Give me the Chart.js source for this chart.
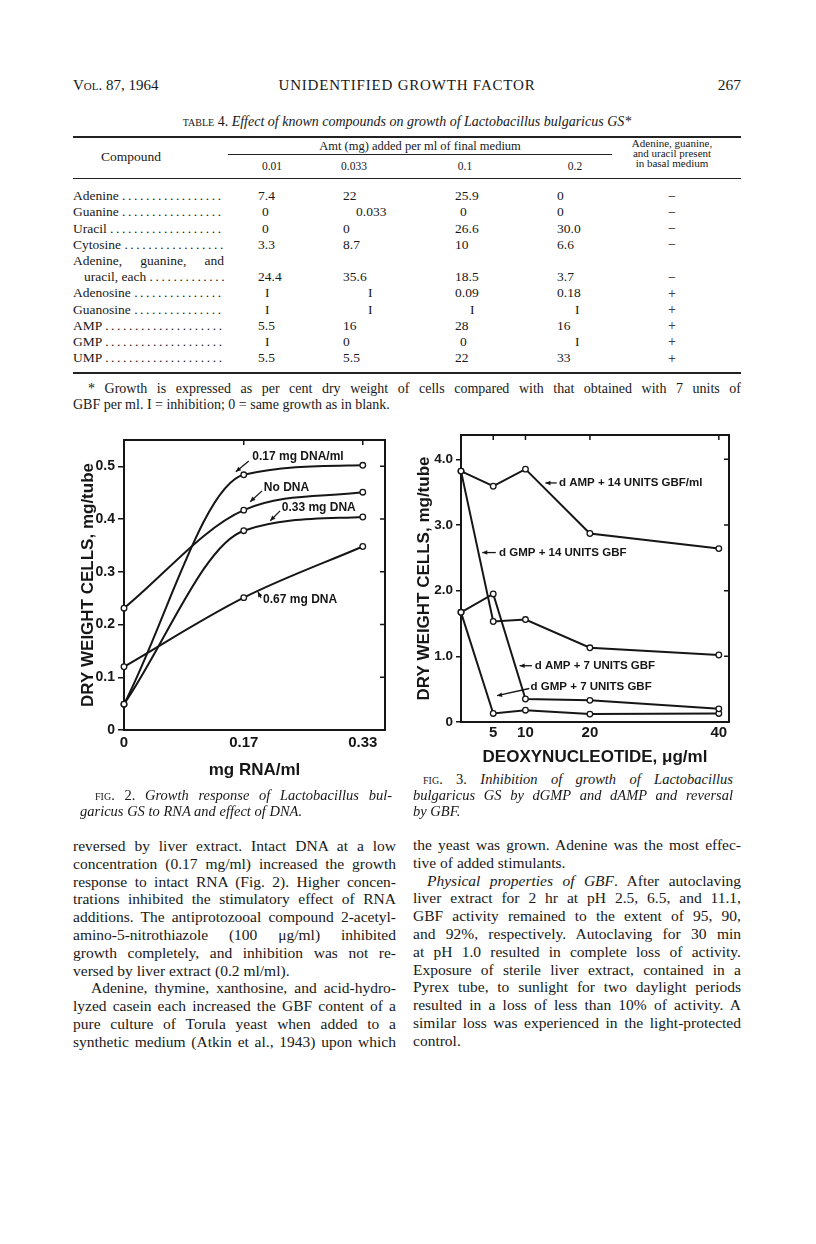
<!DOCTYPE html>
<html>
<head>
<meta charset="utf-8">
<title>Unidentified growth factor, p. 267</title>
<script src="https://cdn.jsdelivr.net/npm/chart.js"></script>
<style>
  html, body { margin: 0; padding: 0; background: #fff; }
  body { position: relative; width: 816px; height: 1244px; overflow: hidden;
         font-family: "Liberation Serif", "DejaVu Serif", serif; color: #181818; }
  .t { position: absolute; white-space: nowrap; }
  .jl { position: absolute; white-space: normal; text-align: justify; text-align-last: justify; }
  .rule { position: absolute; background: #222; }
  .sc { font-variant: small-caps; }
  .lead { overflow: hidden; }
  canvas { position: absolute; }
</style>
</head>
<body>
<canvas id="fig2" width="360" height="365" style="left:40px; top:425px;"></canvas>
<canvas id="fig3" width="335" height="350" style="left:405px; top:420px;"></canvas>

<script>
// ---- Fig. 2: growth vs RNA, with DNA added ----
const rnaDoses = [0, 0.167, 0.333];
const rnaTickLabels = ['0', '0.17', '0.33'];
const dna017 = [0.049, 0.484, 0.502];
const noDna = [0.231, 0.417, 0.451];
const dna033 = [0.049, 0.378, 0.404];
const dna067 = [0.120, 0.251, 0.348];
const weightTicks2 = [0, 0.1, 0.2, 0.3, 0.4, 0.5];

// ---- Fig. 3: inhibition by dGMP / dAMP ----
const deoxyDoses = [0, 5, 10, 20, 40];
const deoxyTicks = [5, 10, 20, 40];
const dAmp14 = [3.82, 3.59, 3.85, 2.87, 2.64];
const dGmp14 = [3.82, 1.53, 1.56, 1.13, 1.02];
const dAmp7 = [1.67, 1.95, 0.35, 0.33, 0.20];
const dGmp7 = [1.67, 0.13, 0.18, 0.12, 0.13];
const weightTicks3 = [0, 1, 2, 3, 4];

// ---- Table 4 ----
const compounds = ['Adenine', 'Guanine', 'Uracil', 'Cytosine', 'Adenine, guanine, and|uracil, each',
  'Adenosine', 'Guanosine', 'AMP', 'GMP', 'UMP'];
const amountLabels = ['0.01', '0.033', '0.1', '0.2'];
const amt001 = ['7.4', '0', '0', '3.3', '24.4', 'I', 'I', '5.5', 'I', '5.5'];
const amt0033 = ['22', '0.033', '0', '8.7', '35.6', 'I', 'I', '16', '0', '5.5'];
const amt01 = ['25.9', '0', '26.6', '10', '18.5', '0.09', 'I', '28', '0', '22'];
const amt02 = ['0', '0', '30.0', '6.6', '3.7', '0.18', 'I', '16', 'I', '33'];
const inBasal = ['\u2212', '\u2212', '\u2212', '\u2212', '\u2212', '+', '+', '+', '+', '+'];

const INK = '#161616';
const SANS = '"Liberation Sans", Arial, sans-serif';

// page text helper
function put(html, left, cy, size, opts = {}) {
  const d = document.createElement('div');
  d.className = opts.justify ? 'jl' : 't';
  const lh = Math.round(size * 1.2);
  d.style.left = left + 'px';
  d.style.top = (cy - lh * 0.58) + 'px';
  d.style.fontSize = size + 'px';
  d.style.lineHeight = lh + 'px';
  if (opts.width) d.style.width = opts.width + 'px';
  if (opts.align) d.style.textAlign = opts.align;
  if (opts.style) Object.assign(d.style, opts.style);
  d.innerHTML = html;
  document.body.appendChild(d);
  return d;
}
function rule(x1, x2, y, w) {
  const r = document.createElement('div');
  r.className = 'rule';
  r.style.left = x1 + 'px'; r.style.width = (x2 - x1) + 'px';
  r.style.top = (y - w / 2) + 'px'; r.style.height = w + 'px';
  document.body.appendChild(r);
}
function lines(list, left, width, firstY, step, size) {
  list.forEach((l, i) => {
    const ind = l.indent || 0;
    put(l.t, left + ind, firstY + i * step, size,
        { justify: !l.last, width: width - ind });
  });
}

// running head
put('V<span class="sc">ol</span>. 87, 1964', 73, 86, 15);
put('UNIDENTIFIED GROWTH FACTOR', 73, 86, 15, { width: 668, align: 'center', style: { letterSpacing: '0.8px' } });
put('267', 73, 86, 15.5, { width: 668, align: 'right' });

// table
put('<span class="sc">table</span> 4. <i>Effect of known compounds on growth of Lactobacillus bulgaricus GS*</i>',
    73, 123, 14, { width: 668, align: 'center' });
rule(73, 741, 137, 2);
put('Compound', 101, 158, 13.5);
put('Amt (mg) added per ml of final medium', 228, 148, 12.5, { width: 384, align: 'center' });
rule(228, 612, 154, 1);
const headX = [272, 354, 465, 575];
amountLabels.forEach((s, i) => put(s, headX[i] - 30, 167, 11.5, { width: 60, align: 'center' }));
['Adenine, guanine,', 'and uracil present', 'in basal medium'].forEach((s, i) =>
  put(s, 607, 145.5 + i * 10, 11, { width: 130, align: 'center', style: { lineHeight: '11px' } }));
rule(73, 741, 178, 1);

const colX = [258, 343, 455, 557];
const cols = [amt001, amt0033, amt01, amt02];
const shiftI = [7, 25, 15, 18];
const shiftZero = [4, 0, 5, 0];
const rowY = i => 197.5 + i * 16.2;
let r = 0;
compounds.forEach((name, k) => {
  const parts = name.split('|');
  if (parts.length > 1) {
    put(parts[0], 73, rowY(r), 13.5, { justify: true, width: 151 });
    r++;
  }
  const label = parts[parts.length - 1];
  const indent = parts.length > 1 ? 11 : 0;
  const lead = put(label + ' <span style="letter-spacing:2.6px">' + '.'.repeat(40) + '</span>',
                   73 + indent, rowY(r), 13.5);
  lead.classList.add('lead');
  lead.style.width = (151 - indent) + 'px';
  cols.forEach((c, j) => {
    const v = c[k];
    let dx = 0;
    if (v === 'I') dx = shiftI[j];
    if (v === '0') dx = shiftZero[j];
    if (v === '0.033') dx = 13;
    put(v, colX[j] + dx, rowY(r), 13.5);
  });
  put(inBasal[k], 657, rowY(r), 14, { width: 30, align: 'center' });
  r++;
});
rule(73, 741, 373, 1.5);
put('* Growth is expressed as per cent dry weight of cells compared with that obtained with 7 units of',
    88, 390, 14, { justify: true, width: 653 });
put('GBF per ml. I = inhibition; 0 = same growth as in blank.', 73, 406, 14);

// captions
put('<span class="sc">fig</span>. 2. <i>Growth response of Lactobacillus bul-</i>', 95, 797, 14.5, { justify: true, width: 297 });
put('<i>garicus GS to RNA and effect of DNA.</i>', 80, 813, 14.5);
put('<span class="sc">fig</span>. 3. <i>Inhibition of growth of Lactobacillus</i>', 423, 781, 14.5, { justify: true, width: 310 });
put('<i>bulgaricus GS by dGMP and dAMP and reversal</i>', 413, 797, 14.5, { justify: true, width: 320 });
put('<i>by GBF.</i>', 413, 813, 14.5);

// body text
const leftText = [
  { t: 'reversed by liver extract. Intact DNA at a low' },
  { t: 'concentration (0.17 mg/ml) increased the growth' },
  { t: 'response to intact RNA (Fig. 2). Higher concen-' },
  { t: 'trations inhibited the stimulatory effect of RNA' },
  { t: 'additions. The antiprotozooal compound 2-acetyl-' },
  { t: 'amino-5-nitrothiazole (100 \u03bcg/ml) inhibited' },
  { t: 'growth completely, and inhibition was not re-' },
  { t: 'versed by liver extract (0.2 ml/ml).', last: true },
  { t: 'Adenine, thymine, xanthosine, and acid-hydro-', indent: 18 },
  { t: 'lyzed casein each increased the GBF content of a' },
  { t: 'pure culture of Torula yeast when added to a' },
  { t: 'synthetic medium (Atkin et al., 1943) upon which' }
];
const rightText = [
  { t: 'the yeast was grown. Adenine was the most effec-' },
  { t: 'tive of added stimulants.', last: true },
  { t: '<i>Physical properties of GBF</i>. After autoclaving', indent: 14 },
  { t: 'liver extract for 2 hr at pH 2.5, 6.5, and 11.1,' },
  { t: 'GBF activity remained to the extent of 95, 90,' },
  { t: 'and 92%, respectively. Autoclaving for 30 min' },
  { t: 'at pH 1.0 resulted in complete loss of activity.' },
  { t: 'Exposure of sterile liver extract, contained in a' },
  { t: 'Pyrex tube, to sunlight for two daylight periods' },
  { t: 'resulted in a loss of less than 10% of activity. A' },
  { t: 'similar loss was experienced in the light-protected' },
  { t: 'control.', last: true }
];
lines(leftText, 73, 323, 847, 17.8, 15.5);
lines(rightText, 413, 328, 846, 17.8, 15.5);

// ---- chart helpers ----
const pairs = (xs, ys) => xs.map((x, i) => ({ x, y: ys[i] }));
function series(xs, ys, smooth) {
  return {
    data: pairs(xs, ys), borderColor: INK, borderWidth: 2, fill: false, clip: false,
    tension: 0, cubicInterpolationMode: smooth ? 'monotone' : 'default',
    pointRadius: 2.8, pointBackgroundColor: '#fff', pointBorderColor: INK, pointBorderWidth: 1.3
  };
}
const font = size => ({ family: SANS, size, weight: 'bold' });

const framePlugin = {
  id: 'frame',
  beforeDatasetsDraw(chart) {
    const { ctx, chartArea: a, scales: { x, y } } = chart;
    ctx.save();
    ctx.strokeStyle = INK;
    ctx.lineWidth = 2;
    ctx.strokeRect(a.left, a.top, a.right - a.left, a.bottom - a.top);
    ctx.lineWidth = 1.5;
    ctx.beginPath();
    y.ticks.forEach(t => {
      if (t.value === 0) return;
      const py = y.getPixelForValue(t.value);
      ctx.moveTo(a.right, py); ctx.lineTo(a.right - 5, py);
    });
    x.ticks.forEach(t => {
      const px = x.getPixelForValue(t.value);
      if (px < a.left + 2) return;
      ctx.moveTo(px, a.top); ctx.lineTo(px, a.top + 5);
    });
    ctx.stroke();
    ctx.restore();
  }
};

function notesPlugin(items, size) {
  return {
    id: 'notes',
    afterDatasetsDraw(chart) {
      const { ctx, scales: { x, y } } = chart;
      ctx.save();
      ctx.fillStyle = INK; ctx.strokeStyle = INK; ctx.lineWidth = 1.3;
      ctx.font = 'bold ' + size + 'px ' + SANS;
      ctx.textBaseline = 'middle'; ctx.textAlign = 'left';
      items.forEach(n => {
        ctx.fillText(n.text, x.getPixelForValue(n.at[0]), y.getPixelForValue(n.at[1]));
        const x1 = x.getPixelForValue(n.from[0]), y1 = y.getPixelForValue(n.from[1]);
        const x2 = x.getPixelForValue(n.to[0]), y2 = y.getPixelForValue(n.to[1]);
        ctx.beginPath(); ctx.moveTo(x1, y1); ctx.lineTo(x2, y2); ctx.stroke();
        const ang = Math.atan2(y2 - y1, x2 - x1);
        ctx.beginPath();
        ctx.moveTo(x2, y2);
        ctx.lineTo(x2 - 5 * Math.cos(ang) + 2.3 * Math.sin(ang), y2 - 5 * Math.sin(ang) - 2.3 * Math.cos(ang));
        ctx.lineTo(x2 - 5 * Math.cos(ang) - 2.3 * Math.sin(ang), y2 - 5 * Math.sin(ang) + 2.3 * Math.cos(ang));
        ctx.closePath(); ctx.fill();
      });
      ctx.restore();
    }
  };
}

function axes(o) {
  return {
    x: {
      type: 'linear', min: 0, max: o.xMax,
      afterBuildTicks: s => { s.ticks = o.xTicks.map(v => ({ value: v })); },
      afterFit: s => { s.height = o.xHeight; },
      grid: { display: false, drawTicks: false },
      border: { display: false },
      ticks: { callback: o.xLabel, font: font(15), color: INK, padding: o.xPad, maxRotation: 0, autoSkip: false },
      title: { display: true, text: o.xTitle, font: font(17), color: INK, padding: { top: 0, bottom: o.xTitlePad } }
    },
    y: {
      min: 0, max: o.yMax,
      afterBuildTicks: s => { s.ticks = o.yTicks.map(v => ({ value: v })); },
      afterFit: s => { s.width = o.yWidth; },
      grid: { drawOnChartArea: false, drawTicks: true, tickLength: o.yTickLen, color: INK, lineWidth: 1.5 },
      border: { display: false },
      ticks: { callback: v => (v === 0 ? '0' : v.toFixed(1)), font: font(o.yFont), color: INK, padding: 3 },
      title: { display: true, text: 'DRY WEIGHT CELLS, mg/tube', font: font(17), color: INK,
               padding: { top: o.yTitlePad, bottom: 0 } }
    }
  };
}

const common = {
  responsive: false, animation: false, devicePixelRatio: 1,
  plugins: { legend: { display: false }, tooltip: { enabled: false } }
};

new Chart(document.getElementById('fig2'), {
  type: 'line',
  data: { datasets: [
    series(rnaDoses, dna017, true), series(rnaDoses, noDna, true),
    series(rnaDoses, dna033, true), series(rnaDoses, dna067, true)
  ] },
  options: Object.assign({}, common, {
    layout: { padding: { top: 15, right: 15, left: 0, bottom: 0 } },
    scales: axes({
      xMax: 0.364, xTicks: rnaDoses, xLabel: (v, i) => rnaTickLabels[i], xHeight: 60, xPad: 4,
      xTitle: 'mg RNA/ml', xTitlePad: 9,
      yMax: 0.55, yTicks: weightTicks2, yWidth: 84, yTitlePad: 38, yFont: 14, yTickLen: 6
    })
  }),
  plugins: [framePlugin, notesPlugin([
    { text: '0.17 mg DNA/ml', at: [0.179, 0.518], from: [0.174, 0.510], to: [0.156, 0.490] },
    { text: 'No DNA', at: [0.195, 0.459], from: [0.1925, 0.4535], to: [0.176, 0.433] },
    { text: '0.33 mg DNA', at: [0.220, 0.421], from: [0.2176, 0.4156], to: [0.204, 0.397] },
    { text: '0.67 mg DNA', at: [0.194, 0.247], from: [0.1911, 0.2505], to: [0.1869, 0.2619] }
  ], 12)]
});

new Chart(document.getElementById('fig3'), {
  type: 'line',
  data: { datasets: [
    series(deoxyDoses, dAmp14, false), series(deoxyDoses, dGmp14, false),
    series(deoxyDoses, dAmp7, false), series(deoxyDoses, dGmp7, false)
  ] },
  options: Object.assign({}, common, {
    layout: { padding: { top: 15, right: 11, left: 0, bottom: 0 } },
    scales: axes({
      xMax: 41.58, xTicks: deoxyTicks, xLabel: v => String(v), xHeight: 48, xPad: 2,
      xTitle: 'DEOXYNUCLEOTIDE, \u03bcg/ml', xTitlePad: 2,
      yMax: 4.37, yTicks: weightTicks3, yWidth: 56, yTitlePad: 9, yFont: 13.5, yTickLen: 5
    })
  }),
  plugins: [framePlugin, notesPlugin([
    { text: 'd AMP + 14 UNITS GBF/ml', at: [15.2, 3.64], from: [14.85, 3.64], to: [13.1, 3.64] },
    { text: 'd GMP + 14 UNITS GBF', at: [5.9, 2.58], from: [5.4, 2.58], to: [3.3, 2.58] },
    { text: 'd AMP + 7 UNITS GBF', at: [11.43, 0.857], from: [11.0, 0.857], to: [9.1, 0.857] },
    { text: 'd GMP + 7 UNITS GBF', at: [10.8, 0.537], from: [10.6, 0.51], to: [5.6, 0.40] }
  ], 11.5)]
});
</script>
</body>
</html>
